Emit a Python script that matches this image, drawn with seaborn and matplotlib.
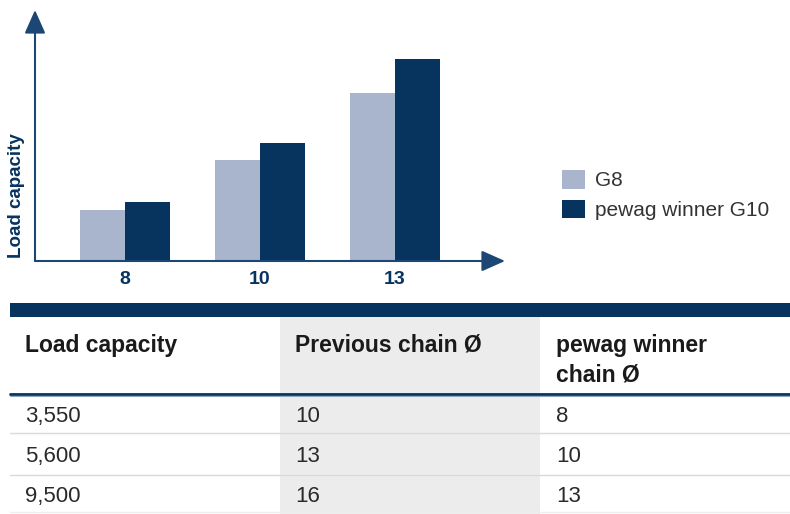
import matplotlib
matplotlib.use("Agg")
import matplotlib.pyplot as plt
from matplotlib.patches import Patch, Rectangle
import pandas as pd
import seaborn as sns

# chart data (relative load capacity)
chain_sizes = ["8", "10", "13"]
g8_values = [51, 101, 168]
g10_values = [59, 118, 202]
series_names = ["G8", "pewag winner G10"]

# table data
table_header = ["Load capacity", "Previous chain Ø", "pewag winner\nchain Ø"]
load_capacity = ["3,550", "5,600", "9,500"]
previous_chain = ["10", "13", "16"]
winner_chain = ["8", "10", "13"]

light = "#a9b4cd"
navy = "#07335f"
axis_col = "#1c4775"

sns.set_style("white")
plt.rcParams["font.family"] = ["Liberation Sans", "DejaVu Sans"]

df = pd.DataFrame({
    "size": chain_sizes * 2,
    "load": g8_values + g10_values,
    "grade": [series_names[0]] * 3 + [series_names[1]] * 3,
})

W, H = 790, 514
fig = plt.figure(figsize=(W / 100, H / 100), dpi=100)

# ---- bar chart ----
ax = fig.add_axes([35 / W, (H - 261) / H, 470 / W, 251 / H])
sns.barplot(data=df, x="size", y="load", hue="grade", order=chain_sizes,
            hue_order=series_names, palette=[light, navy], saturation=1,
            width=0.667, gap=0, linewidth=0, legend=False, ax=ax)
ax.set_xlim(-0.667, 2.815)
ax.set_ylim(0, 251)
for s in ax.spines.values():
    s.set_visible(False)
ax.set_yticks([])
ax.tick_params(axis="x", length=0, pad=7, labelsize=14, labelcolor=navy)
for lab in ax.get_xticklabels():
    lab.set_fontweight("bold")
ax.set_xlabel("")
ax.set_ylabel("Load capacity", fontsize=13.5, fontweight="bold", color=navy)
ax.yaxis.set_label_coords(-0.021, 0.26)

arrow = dict(arrowstyle="-|>,head_length=0.72,head_width=0.32", mutation_scale=20,
             color=axis_col, lw=1.5, shrinkA=0, shrinkB=0)
ax.annotate("", xy=(1, 0), xytext=(0, 0), xycoords="axes fraction",
            arrowprops=arrow, annotation_clip=False)
ax.annotate("", xy=(0, 1), xytext=(0, 0), xycoords="axes fraction",
            arrowprops=arrow, annotation_clip=False)

handles = [Patch(facecolor=light, edgecolor="none"), Patch(facecolor=navy, edgecolor="none")]
ax.legend(handles, series_names, loc="upper left",
          bbox_to_anchor=(562 / W, 1 - 170 / H), bbox_transform=fig.transFigure,
          frameon=False, borderpad=0, borderaxespad=0, fontsize=15,
          handlelength=1.1, handleheight=1.0, handletextpad=0.5,
          labelspacing=0.45, labelcolor="#333333")

# ---- table ----
tb = fig.add_axes([0, 0, 1, (H - 295) / H])
tb.set_xlim(0, W)
tb.set_ylim(H, 295)
tb.axis("off")

tb.add_patch(Rectangle((280, 317), 260, H - 317, facecolor="#ececec", edgecolor="none"))
tb.add_patch(Rectangle((10, 303), W - 10, 14, facecolor=navy, edgecolor="none"))
tb.plot([10, W], [394, 394], color=navy, lw=2)
tb.plot([10, W], [396, 396], color="#8ea6c2", lw=0.8)
for y in [433, 475]:
    tb.plot([10, W], [y, y], color="#d9d9d9", lw=1)
tb.plot([10, W], [512, 512], color="#eeeeee", lw=1)

col_x = [25, 295, 556]
for x, head in zip(col_x, table_header):
    for i, line in enumerate(head.split("\n")):
        tb.text(x, 352 + i * 30, line, fontsize=16.5, fontweight="bold",
                color="#1a1a1a", va="baseline", ha="left")

row_y = [422, 462, 502]
for col, x in zip([load_capacity, previous_chain, winner_chain], col_x):
    for val, y in zip(col, row_y):
        tb.text(x, y, val, fontsize=16, color="#2a2a2a", va="baseline", ha="left")

fig.savefig("out.png", dpi=100)
